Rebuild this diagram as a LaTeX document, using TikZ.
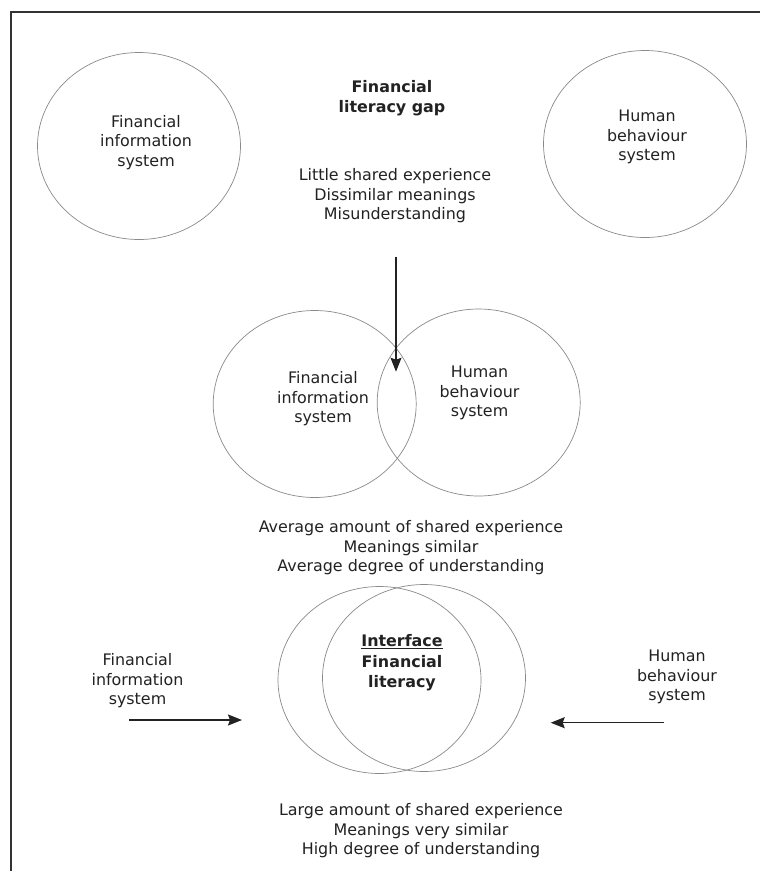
\documentclass[tikz,border=0pt]{standalone}
\usepackage{fontspec}
\setmainfont{DejaVu Sans}
\usetikzlibrary{shapes.geometric,arrows.meta}
\definecolor{inkc}{HTML}{222222}
\definecolor{ringc}{HTML}{8A8A8A}
\definecolor{framec}{HTML}{333333}
\tikzset{
  ring/.style={draw=ringc, line width=0.7pt, ellipse, minimum width=203pt, minimum height=187pt, inner sep=0pt},
  lbl/.style={align=center, inner sep=0pt, text=inkc, font=\fontsize{15.9}{19.6}\selectfont},
  blbl/.style={lbl, font=\fontsize{15.9}{20.5}\selectfont\bfseries},
  flow/.style={draw=inkc, line width=1.3pt, -{Stealth[length=14pt,width=11pt,inset=2pt]}},
}
\begin{document}
\begin{tikzpicture}[x=1pt,y=-1pt]
\useasboundingbox (0,0) rectangle (760,871);
\fill[white] (0,0) rectangle (760,871);
% frame
\coordinate (ftl) at (11,12);
\coordinate (ftr) at (760,12);
\coordinate (fbl) at (11,871);
\draw[framec, line width=1.2pt] (fbl) -- (ftl) -- (ftr);

% top row
\node[ring] (c1) at (139,146) {};
\node[ring] (c2) at (645,144) {};
\node[lbl] (t1) at (146,142.5) {Financial\\information\\system};
\node[lbl] (t2) at (647,137) {Human\\behaviour\\system};
\node[blbl] (gap) at (392,98) {Financial\\literacy gap};
\node[lbl] (little) at (395,196) {Little shared experience\\Dissimilar meanings\\Misunderstanding};

% middle row
\node[ring] (c3) at (314.7,404) {};
\node[ring] (c4) at (478.7,402.5) {};
\node[lbl] (t3) at (323,399) {Financial\\information\\system};
\node[lbl] (t4) at (479.5,393) {Human\\behaviour\\system};
\node[lbl] (avg) at (411,548) {Average amount of shared experience\\Meanings similar\\Average degree of understanding};

\coordinate (astart) at (396,256.7);
\coordinate (aend) at (396,371.7);
\draw[flow] (astart) -- (aend);

% bottom row
\node[ring] (c5) at (379.5,680) {};
\node[ring] (c6) at (424,678) {};
\node[blbl] (iface) at (402,663) {\underline{Interface}\\Financial\\literacy};
\node[lbl] (t5) at (137.5,681) {Financial\\information\\system};
\node[lbl] (t6) at (677,677) {Human\\behaviour\\system};
\node[lbl] (large) at (421,831) {Large amount of shared experience\\Meanings very similar\\High degree of understanding};

\coordinate (lstart) at (129,720);
\coordinate (lend) at (242,720);
\draw[flow] (lstart) -- (lend);
\coordinate (rstart) at (664,722.7);
\coordinate (rend) at (550.7,722.7);
\draw[flow] (rstart) -- (rend);
\end{tikzpicture}
\end{document}
